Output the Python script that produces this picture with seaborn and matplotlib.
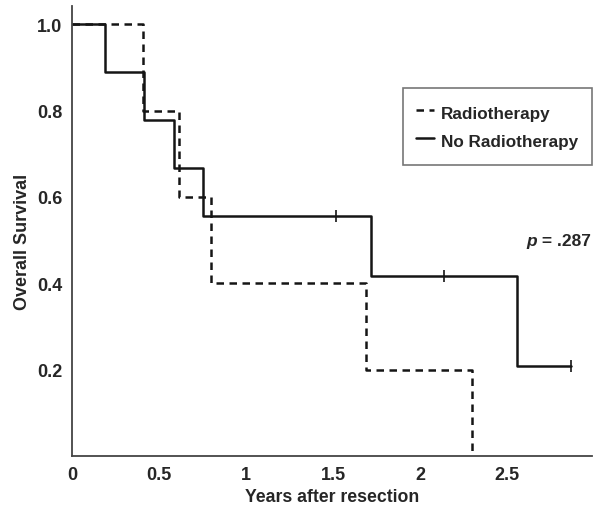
import matplotlib
matplotlib.use('Agg')
import matplotlib.pyplot as plt
import seaborn as sns
import pandas as pd

# Kaplan-Meier step data
no_rt_time = [0, 0.19, 0.415, 0.586, 0.753, 1.72, 2.56, 2.87]
no_rt_surv = [1.0, 0.889, 0.778, 0.667, 0.556, 0.417, 0.208, 0.208]
no_rt_cens_time = [1.52, 2.14, 2.87]
no_rt_cens_surv = [0.556, 0.417, 0.208]

rt_time = [0, 0.41, 0.615, 0.80, 1.69, 2.30]
rt_surv = [1.0, 0.8, 0.6, 0.4, 0.2, 0.0]

x_ticks = [0, 0.5, 1, 1.5, 2, 2.5]
x_labels = ['0', '0.5', '1', '1.5', '2', '2.5']
y_ticks = [0.2, 0.4, 0.6, 0.8, 1.0]
y_labels = ['0.2', '0.4', '0.6', '0.8', '1.0']

sns.set_style('white')
plt.rcParams['font.family'] = ['Liberation Sans', 'DejaVu Sans']

fig = plt.figure(figsize=(6, 5.1), dpi=100)
ax = fig.add_axes([0.12, 0.104, 0.867, 0.882])

line_col = '#151515'
rt = pd.DataFrame({'time': rt_time, 'surv': rt_surv})
no_rt = pd.DataFrame({'time': no_rt_time, 'surv': no_rt_surv})

sns.lineplot(data=rt, x='time', y='surv', estimator=None, sort=False,
             drawstyle='steps-post', color=line_col, lw=1.8,
             linestyle=(0, (3, 2.2)), label='Radiotherapy', ax=ax)
sns.lineplot(data=no_rt, x='time', y='surv', estimator=None, sort=False,
             drawstyle='steps-post', color=line_col, lw=1.8,
             label='No Radiotherapy', ax=ax)
ax.plot(no_rt_cens_time, no_rt_cens_surv, ls='none', marker='|',
        ms=9, mew=1.2, color=line_col)

ax.set_xlim(0, 2.99)
ax.set_ylim(0, 1.042)
ax.set_xticks(x_ticks)
ax.set_xticklabels(x_labels, fontweight='bold', fontsize=13)
ax.set_yticks(y_ticks)
ax.set_yticklabels(y_labels, fontweight='bold', fontsize=13)
ax.tick_params(direction='in', length=8, width=1.2, color='#444', pad=7)

for s in ['top', 'right']:
    ax.spines[s].set_visible(False)
for s in ['left', 'bottom']:
    ax.spines[s].set_color('#444')
    ax.spines[s].set_linewidth(1.3)

ax.set_xlabel('Years after resection', fontweight='bold', fontsize=12.7)
ax.xaxis.set_label_coords(0.5, -0.071)
ax.set_ylabel('Overall Survival', fontweight='bold', fontsize=13)
ax.yaxis.set_label_coords(-0.078, 0.477)

# p-value: italic "p", upright ".287"
pv = ax.text(2.98, 0.5, ' = .287', ha='right', va='center',
             fontsize=12.5, fontweight='bold')
ax.annotate('p', xy=(0, 0.5), xycoords=pv, ha='right', va='center',
            fontsize=12.5, fontweight='bold', fontstyle='italic')

leg = ax.legend(loc='upper left', bbox_to_anchor=(0.671, 0.825),
                bbox_transform=fig.transFigure, borderaxespad=0,
                frameon=True, fancybox=False, handlelength=1.05,
                handleheight=1.55, handletextpad=0.4, borderpad=0.8,
                labelspacing=0.4, prop={'weight': 'bold', 'size': 12.3})
leg.get_frame().set_edgecolor('#555')
leg.get_frame().set_linewidth(1.2)

fig.savefig('out.png', dpi=100)
